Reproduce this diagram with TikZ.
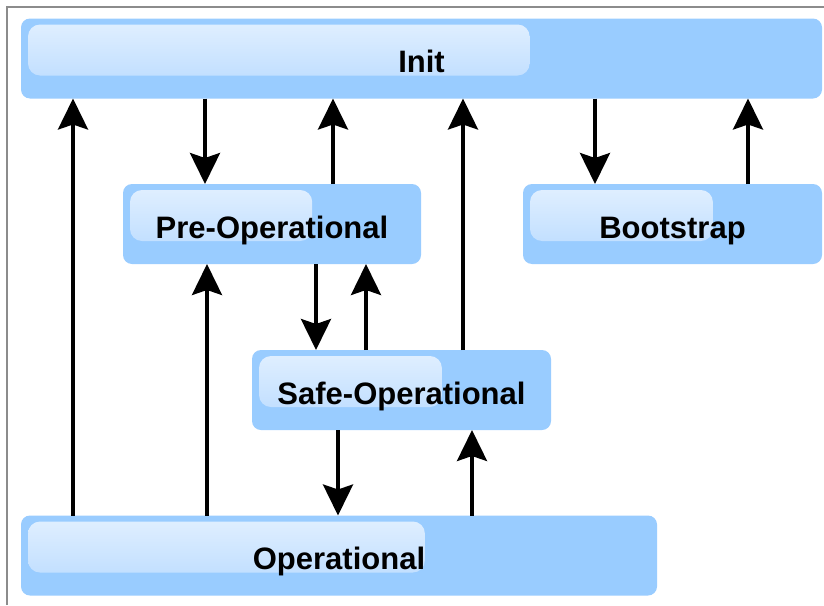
\documentclass[tikz,border=0pt]{standalone}
\usepackage{fontspec}
\setmainfont{Liberation Sans}
\usetikzlibrary{arrows.meta,calc}
\definecolor{boxblue}{HTML}{99CCFF}
\definecolor{hitop}{HTML}{E2F0FF}
\definecolor{hibot}{HTML}{B6D9FF}
\definecolor{frame}{HTML}{8C8C8C}
\tikzset{
  state/.style={draw=none, fill=boxblue, rounded corners=9pt, inner sep=0pt, outer sep=0pt,
    minimum width=#1, minimum height=80pt,
    font=\fontsize{31}{36}\selectfont\bfseries, text height=28pt, text depth=0pt,
    path picture={
      \shade[top color=hitop, bottom color=hibot, rounded corners=12pt]
        ($(path picture bounding box.north west)+(7pt,-6pt)$) rectangle
        ($(path picture bounding box.north west)!0.635!(path picture bounding box.north east)+(0,-57pt)$);
    }},
  arr/.style={line width=3.6pt, -{Stealth[length=31pt,width=30pt,inset=5pt]}}
}
\begin{document}
\begin{tikzpicture}[x=1pt,y=-1pt]
\useasboundingbox (0,0) rectangle (824,605);
\fill[white] (0,0) rectangle (824,605);
\draw[frame, line width=2pt] (7,605) -- (7,7) -- (824,7);

\node[state=801pt] (init) at (421.5,58.5) {Init};
\node[state=298pt] (preop) at (272,224) {Pre-Operational};
\node[state=299pt] (boot) at (672.5,224) {Bootstrap};
\node[state=299pt] (safe) at (401.5,390) {Safe-Operational};
\node[state=636pt] (op) at (339,555.5) {Operational};

\draw[arr] ([xshift=184pt]init.south west) -- ([xshift=82pt]preop.north west);
\draw[arr] ([xshift=210pt]preop.north west) -- ([xshift=312pt]init.south west);
\draw[arr] ([xshift=52pt]op.north west) -- ([xshift=52pt]init.south west);
\draw[arr] ([xshift=574pt]init.south west) -- ([xshift=72pt]boot.north west);
\draw[arr] ([xshift=225pt]boot.north west) -- ([xshift=727pt]init.south west);
\draw[arr] ([xshift=193pt]preop.south west) -- ([xshift=64pt]safe.north west);
\draw[arr] ([xshift=114pt]safe.north west) -- ([xshift=243pt]preop.south west);
\draw[arr] ([xshift=211pt]safe.north west) -- ([xshift=442pt]init.south west);
\draw[arr] ([xshift=186pt]op.north west) -- ([xshift=84pt]preop.south west);
\draw[arr] ([xshift=86pt]safe.south west) -- ([xshift=317pt]op.north west);
\draw[arr] ([xshift=451pt]op.north west) -- ([xshift=220pt]safe.south west);
\end{tikzpicture}
\end{document}
